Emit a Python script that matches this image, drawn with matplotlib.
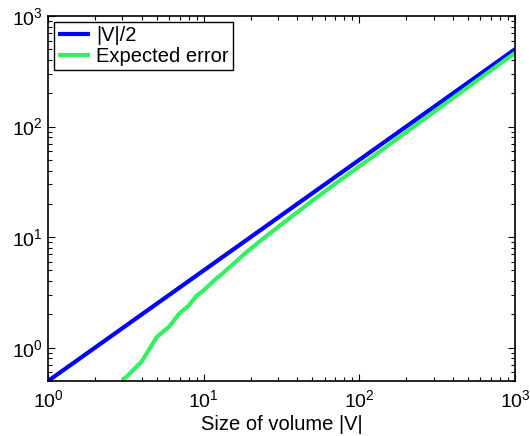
import numpy as np
import matplotlib
matplotlib.use('Agg')
import matplotlib.pyplot as plt

plt.rcParams['font.family'] = ['Liberation Sans', 'DejaVu Sans']
plt.rcParams['mathtext.fontset'] = 'custom'
plt.rcParams['mathtext.rm'] = 'Liberation Sans'
plt.rcParams['mathtext.it'] = 'Liberation Sans:italic'

# |V|/2 reference line
half_x = [1, 1000]
half_y = [0.5, 500]

# expected error as a function of volume size
err_x = [3, 4, 5, 6, 7, 8, 9, 10, 12, 13, 15, 19, 25, 36, 50, 70, 87,
         120, 200, 300, 500, 700, 1000]
err_y = [0.5, 0.75, 1.25, 1.55, 2.05, 2.4, 2.95, 3.3, 4.2, 4.6, 5.5, 7.4,
         10.1, 15.0, 21.4, 30.4, 38.0, 52.5, 89.0, 135.0, 228.0, 322.0,
         464.0]

fig = plt.figure(figsize=(5.30, 4.36), dpi=100)
ax = fig.add_axes([0.0906, 0.1261, 0.8811, 0.8372])

ax.loglog(half_x, half_y, color='#0000ff', lw=3.0, label='|V|/2', solid_capstyle='butt')
ax.loglog(err_x, err_y, color='#33f060', lw=3.0, label='Expected error', solid_capstyle='butt')

ax.set_xlim(1, 1000)
ax.set_ylim(0.5, 1000)
ax.set_xlabel('Size of volume |V|', fontsize=14.5, labelpad=2.5)

ax.tick_params(which='both', direction='in', top=True, right=True, labelsize=14, width=0.8)
ax.tick_params(which='major', length=5)
ax.tick_params(which='minor', length=3)
ax.tick_params(axis='x', which='major', pad=6)
ax.tick_params(axis='y', which='major', pad=4)
for s in ax.spines.values():
    s.set_linewidth(1.2)

leg = ax.legend(loc='upper left', fontsize=14.5, fancybox=False, framealpha=1,
                edgecolor='black', handlelength=1.6, handletextpad=0.3,
                borderpad=0.2, labelspacing=0.1, borderaxespad=0.3)
leg.get_frame().set_linewidth(1.0)

fig.savefig('out.png', dpi=100)
